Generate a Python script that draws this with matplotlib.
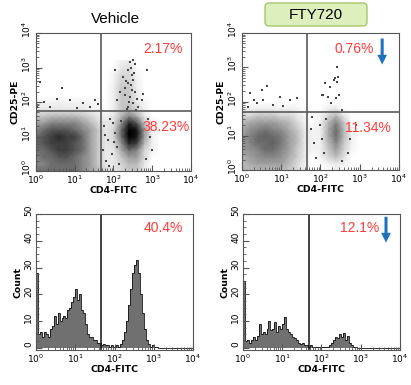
import numpy as np
import matplotlib
matplotlib.use('Agg')
import matplotlib.pyplot as plt
from matplotlib.patches import FancyBboxPatch
from matplotlib.ticker import LogLocator, MultipleLocator
from matplotlib.transforms import ScaledTranslation
from matplotlib.colors import LinearSegmentedColormap, PowerNorm

# density of events, at grid nodes
# columns: log10(CD4) = 0.0, 0.2, ... 4.0 ; rows: log10(CD25) = 0.0, 0.2, ... 3.2
grid_lx = np.linspace(0, 4, 21)
grid_ly = np.linspace(0, 3.2, 17)

veh_density = [
    [5, 5, 5, 5, 5, 5, 4, 3, 2, 1, 0.5, 1, 1.5, 1.5, 0.5, 0, 0, 0, 0, 0, 0],
    [4, 4, 5, 5, 5, 5, 4, 3, 1.5, 0.5, 0.5, 1, 2, 2, 0.5, 0, 0, 0, 0, 0, 0],
    [4, 5, 5, 6, 6, 5, 4, 3, 1.5, 0.5, 0.5, 1.5, 3, 3, 1, 0, 0, 0, 0, 0, 0],
    [5, 5, 6, 7, 7, 6, 5, 3, 1.5, 0.5, 0.5, 2.5, 5, 4, 1, 0.3, 0, 0, 0, 0, 0],
    [5, 6, 7, 7, 7, 6, 5, 3, 1.5, 0.5, 0.8, 3.5, 8, 7, 2, 0.3, 0, 0, 0, 0, 0],
    [5, 6, 7, 8, 7, 7, 5, 3, 1.5, 0.5, 1, 5, 10, 9, 3, 0.3, 0, 0, 0, 0, 0],
    [4, 5, 6, 6, 6, 5, 4, 3, 1.5, 0.5, 1, 5, 10, 9, 3, 0.3, 0, 0, 0, 0, 0],
    [3, 3, 4, 4, 4, 4, 3, 2, 1, 0.5, 0.8, 3.5, 8, 6, 1.5, 0.3, 0, 0, 0, 0, 0],
    [1.5, 1.5, 2, 2, 2, 2, 1.5, 1, 0.5, 0.3, 0.5, 2, 4, 2.5, 0.5, 0, 0, 0, 0, 0, 0],
    [0.5, 0.5, 0.5, 0.5, 0.5, 0.5, 0.5, 0.3, 0.2, 0, 0.3, 1.5, 2, 1, 0.3, 0, 0, 0, 0, 0, 0],
    [0.2, 0.2, 0.2, 0.3, 0.2, 0.2, 0.2, 0.2, 0, 0, 0.3, 1.5, 1.5, 0.5, 0.2, 0, 0, 0, 0, 0, 0],
    [0, 0, 0, 0, 0, 0, 0, 0, 0, 0, 0.3, 1.5, 1.5, 0.5, 0, 0, 0, 0, 0, 0, 0],
    [0, 0, 0, 0, 0, 0, 0, 0, 0, 0, 0.3, 1.5, 1.5, 0.3, 0, 0, 0, 0, 0, 0, 0],
    [0, 0, 0, 0, 0, 0, 0, 0, 0, 0, 0.2, 1.2, 1.2, 0.3, 0, 0, 0, 0, 0, 0, 0],
    [0, 0, 0, 0, 0, 0, 0, 0, 0, 0, 0.2, 1, 1, 0.2, 0, 0, 0, 0, 0, 0, 0],
    [0, 0, 0, 0, 0, 0, 0, 0, 0, 0, 0, 0.5, 0.8, 0, 0, 0, 0, 0, 0, 0, 0],
    [0, 0, 0, 0, 0, 0, 0, 0, 0, 0, 0, 0.3, 0.5, 0, 0, 0, 0, 0, 0, 0, 0],
]

fty_density = [
    [2, 2, 2, 2, 2, 2, 1.5, 1, 0.3, 0, 0, 0, 0.3, 0, 0, 0, 0, 0, 0, 0, 0],
    [2, 2.5, 3, 3, 3, 3, 2, 1, 0.3, 0, 0, 0.3, 0.5, 0.3, 0, 0, 0, 0, 0, 0, 0],
    [2.5, 3, 3.5, 4, 4, 3.5, 2.5, 1.5, 0.5, 0, 0.3, 1, 2, 0.8, 0, 0, 0, 0, 0, 0, 0],
    [3, 3.5, 4, 5, 5, 4, 3, 1.5, 0.5, 0.2, 0.3, 1.5, 3, 1.2, 0.2, 0, 0, 0, 0, 0, 0],
    [3, 4, 5, 5, 5.5, 4.5, 3, 2, 0.5, 0.2, 0.3, 2, 4, 1.5, 0.2, 0, 0, 0, 0, 0, 0],
    [3, 4, 5, 5.5, 5, 4.5, 3, 2, 0.5, 0.2, 0.3, 2.5, 5, 2, 0.2, 0, 0, 0, 0, 0, 0],
    [2.5, 3.5, 4, 4.5, 4, 3.5, 2.5, 1.5, 0.5, 0.2, 0.3, 2.5, 5, 2, 0.2, 0, 0, 0, 0, 0, 0],
    [2, 2.5, 3, 3, 3, 2.5, 2, 1, 0.3, 0, 0.3, 2, 4, 1.5, 0, 0, 0, 0, 0, 0, 0],
    [1, 1, 1.5, 1.5, 1.5, 1, 1, 0.5, 0.2, 0, 0.2, 1, 2, 0.5, 0, 0, 0, 0, 0, 0, 0],
    [0.3, 0.3, 0.3, 0.3, 0.3, 0.3, 0.3, 0.2, 0, 0, 0, 0.3, 0.5, 0, 0, 0, 0, 0, 0, 0, 0],
    [0, 0, 0, 0, 0, 0, 0, 0, 0, 0, 0, 0, 0, 0, 0, 0, 0, 0, 0, 0, 0],
    [0, 0, 0, 0, 0, 0, 0, 0, 0, 0, 0, 0, 0, 0, 0, 0, 0, 0, 0, 0, 0],
    [0, 0, 0, 0, 0, 0, 0, 0, 0, 0, 0, 0, 0, 0, 0, 0, 0, 0, 0, 0, 0],
    [0, 0, 0, 0, 0, 0, 0, 0, 0, 0, 0, 0, 0, 0, 0, 0, 0, 0, 0, 0, 0],
    [0, 0, 0, 0, 0, 0, 0, 0, 0, 0, 0, 0, 0, 0, 0, 0, 0, 0, 0, 0, 0],
    [0, 0, 0, 0, 0, 0, 0, 0, 0, 0, 0, 0, 0, 0, 0, 0, 0, 0, 0, 0, 0],
    [0, 0, 0, 0, 0, 0, 0, 0, 0, 0, 0, 0, 0, 0, 0, 0, 0, 0, 0, 0, 0],
]

# single scattered events (log10 units)
veh_dots_lx = [0.10, 0.66, 0.88, 0.36, 1.22, 1.39, 1.05, 0.02, 1.52, 0.55, 1.60, 0.20,
               2.51, 2.55, 2.43, 2.04, 2.37, 2.25, 2.47, 2.38, 2.29, 2.47, 2.17, 2.43,
               2.60, 2.73, 2.08, 2.86, 2.51, 2.38, 2.62, 2.77, 2.33, 2.45, 2.52, 2.30,
               2.40, 2.55, 2.35, 2.58, 2.45, 2.50,
               1.75, 1.85, 1.95, 2.05, 1.80, 2.10, 1.90, 2.15, 2.00, 1.72, 2.95, 3.00,
               2.90, 1.78, 2.02, 1.88, 2.20, 2.85]
veh_dots_ly = [2.58, 2.40, 2.06, 1.86, 1.96, 1.86, 1.82, 1.86, 2.06, 2.10, 1.95, 2.00,
               3.22, 3.10, 3.17, 2.93, 2.93, 2.73, 2.78, 2.54, 2.40, 2.35, 2.30, 2.14,
               2.10, 2.06, 2.06, 2.93, 1.96, 1.86, 1.86, 2.22, 2.60, 2.50, 2.85, 2.20,
               2.00, 2.30, 1.80, 1.78, 3.00, 2.65,
               1.30, 0.90, 0.50, 1.10, 0.30, 0.70, 1.50, 0.20, 1.40, 0.60, 1.00, 0.60,
               1.50, 1.05, 0.85, 0.15, 1.45, 0.35]

fty_dots_lx = [0.21, 0.51, 0.55, 0.30, 0.97, 1.23, 0.17, 0.80, 1.40, 0.64, 1.05, 0.40,
               2.42, 2.37, 2.34, 2.42, 2.12, 2.20, 2.03, 2.54, 2.26, 2.08, 2.46, 2.25,
               2.47, 2.40,
               1.75, 1.85, 2.00, 2.10, 1.90, 2.05, 2.75, 2.90, 1.80, 2.15, 2.55, 2.70]
fty_dots_ly = [2.24, 2.34, 2.04, 2.04, 2.14, 2.04, 1.85, 1.90, 2.09, 2.44, 1.88, 1.95,
               3.02, 2.68, 2.63, 2.58, 2.53, 2.14, 2.19, 1.75, 1.95, 2.19, 2.73, 2.43,
               2.19, 2.10,
               1.20, 0.80, 1.30, 0.50, 0.35, 0.90, 0.90, 1.30, 1.55, 1.50, 0.25, 0.50]

# CD4-FITC histograms, 80 bins of 0.05 decade from 10^0 to 10^4
hist_edges_log = np.linspace(0, 4, 81)
veh_counts = [28, 5, 6, 4, 6, 5, 4, 7, 8, 12, 9, 13, 10, 11, 12, 11, 14, 15, 17, 19,
              22, 18, 20, 14, 13, 9, 5, 4, 4, 3, 3, 2, 2, 1, 1.5, 1, 1, 0.5, 1, 0.5,
              0.5, 1, 0.5, 1.5, 3, 6, 10, 16, 22, 28, 31, 33, 28, 20, 13, 7, 3, 1.5, 0.5, 1,
              0.3, 0.2, 0, 0, 0, 0, 0, 0, 0, 0, 0, 0, 0, 0, 0, 0, 0, 0, 0, 0]
fty_counts = [25, 2.5, 3, 2, 3, 4, 3, 4.5, 9, 5, 6, 5, 7, 10, 6.5, 7, 9.5, 6, 8, 7,
              9, 11.5, 7, 6, 5, 4, 3.5, 3, 2, 1.5, 2, 1, 1, 0.5, 1, 0.5, 0.5, 0.3, 0.5, 0.3,
              0.5, 0.3, 0.5, 0.5, 1, 2, 3, 4, 3.5, 5, 4, 5.5, 3, 4.5, 2, 1, 0.5, 0.3, 0, 0,
              0, 0, 0, 0, 0, 0, 0, 0, 0, 0, 0, 0, 0, 0, 0, 0, 0, 0, 0, 0]

# gates and percentages
veh_gate = (48, 55)
fty_gate = (45, 49)
veh_hist_gate = 45
fty_hist_gate = 47
veh_pct = ('2.17%', '38.23%', '40.4%')
fty_pct = ('0.76%', '11.34%', '12.1%')

RED = '#ff3b3b'
BLUE = '#1f72bd'
SANS = 'Liberation Sans'
dot_cmap = LinearSegmentedColormap.from_list('dots', ['#ffffff', '#000000'])

fig = plt.figure(figsize=(4.11, 3.85), dpi=100)


def style_log_x(ax):
    ax.set_xscale('log')
    ax.set_xlim(1, 1e4)
    ax.xaxis.set_major_locator(LogLocator(base=10, numticks=10))
    ax.xaxis.set_minor_locator(LogLocator(base=10, subs=np.arange(2, 10), numticks=10))


def style_common(ax, xlabel, ylabel):
    ax.tick_params(which='both', direction='in', top=False, right=False,
                   color='#555555', labelsize=6.5, pad=2)
    ax.tick_params(which='major', length=4)
    ax.tick_params(which='minor', length=2)
    ax.tick_params(axis='y', labelrotation=90)
    # rotated y labels sit a little above their ticks, as in the original
    shift = ScaledTranslation(0, 2.5 / 72, fig.dpi_scale_trans)
    for tick in ax.yaxis.get_major_ticks():
        tick.label1.set_va('center')
        tick.label1.set_transform(tick.label1.get_transform() + shift)
    for sp in ax.spines.values():
        sp.set_color('#555555')
        sp.set_linewidth(0.8)
    ax.set_xlabel(xlabel, fontsize=6.7, fontweight='bold', labelpad=0)
    ax.set_ylabel(ylabel, fontsize=6.7, fontweight='bold', labelpad=1)


def dot_panel(rect, density, dots_lx, dots_ly, gate):
    ax = fig.add_axes(rect)
    X, Y = np.meshgrid(10 ** grid_lx, 10 ** grid_ly)
    ax.pcolormesh(X, Y, np.array(density), shading='gouraud', cmap=dot_cmap,
                  norm=PowerNorm(gamma=0.8, vmin=0, vmax=10))
    ax.scatter(10 ** np.array(dots_lx), 10 ** np.array(dots_ly), s=0.7, c='#444444',
               marker='s', linewidths=0)
    ax.axvline(gate[0], color='#5a5a5a', lw=1.2)
    ax.axhline(gate[1], color='#5a5a5a', lw=1.2)
    style_log_x(ax)
    ax.set_yscale('log')
    ax.set_ylim(1, 1e4)
    ax.yaxis.set_major_locator(LogLocator(base=10, numticks=10))
    ax.yaxis.set_minor_locator(LogLocator(base=10, subs=np.arange(2, 10), numticks=10))
    style_common(ax, 'CD4-FITC', 'CD25-PE')
    return ax


def hist_panel(rect, counts, gate):
    ax = fig.add_axes(rect)
    edges = 10 ** hist_edges_log
    ax.stairs(counts, edges, fill=True, color='#707070', lw=0)
    ax.stairs(counts, edges, color='#111111', lw=0.6)
    ax.axvline(gate, color='#111111', lw=1.1)
    style_log_x(ax)
    ax.set_ylim(-0.8, 50)
    ax.yaxis.set_major_locator(MultipleLocator(10))
    ax.yaxis.set_minor_locator(MultipleLocator(2.5))
    style_common(ax, 'CD4-FITC', 'Count')
    return ax


ax1 = dot_panel([0.0876, 0.5558, 0.3771, 0.3584], veh_density, veh_dots_lx, veh_dots_ly,
                veh_gate)
ax2 = dot_panel([0.5881, 0.5584, 0.3827, 0.3558], fty_density, fty_dots_lx, fty_dots_ly,
                fty_gate)
ax3 = hist_panel([0.0876, 0.0909, 0.3820, 0.3532], veh_counts, veh_hist_gate)
ax4 = hist_panel([0.5912, 0.0909, 0.3820, 0.3532], fty_counts, fty_hist_gate)

kw = dict(color=RED, fontsize=10, family=SANS, ha='center', va='center')
ax1.text(0.819, 0.884, veh_pct[0], transform=ax1.transAxes, **kw)
ax1.text(0.839, 0.319, veh_pct[1], transform=ax1.transAxes, **kw)
ax2.text(0.714, 0.880, fty_pct[0], transform=ax2.transAxes, **kw)
ax2.text(0.804, 0.310, fty_pct[1], transform=ax2.transAxes, **kw)
ax3.text(0.809, 0.897, veh_pct[2], transform=ax3.transAxes, **kw)
ax4.text(0.745, 0.897, fty_pct[2], transform=ax4.transAxes, **kw)

arrow = dict(color=BLUE, width=2.2, headwidth=7, headlength=7, lw=0)
ax2.annotate('', xy=(0.893, 0.77), xytext=(0.893, 0.96),
             xycoords='axes fraction', arrowprops=arrow)
ax4.annotate('', xy=(0.911, 0.79), xytext=(0.911, 0.98),
             xycoords='axes fraction', arrowprops=arrow)

# titles
fig.text(115 / 411, 1 - 19 / 385, 'Vehicle', ha='center', va='center',
         fontsize=11, family=SANS)
box = FancyBboxPatch((265 / 411, 1 - 26 / 385), 102 / 411, 23 / 385,
                     boxstyle='round,pad=0,rounding_size=0.01',
                     transform=fig.transFigure, facecolor='#dcefbd',
                     edgecolor='#9fc25c', lw=0.9)
fig.patches.append(box)
fig.text(316 / 411, 1 - 15 / 385, 'FTY720', ha='center', va='center',
         fontsize=11, family=SANS)

fig.savefig('out.png', dpi=100)
